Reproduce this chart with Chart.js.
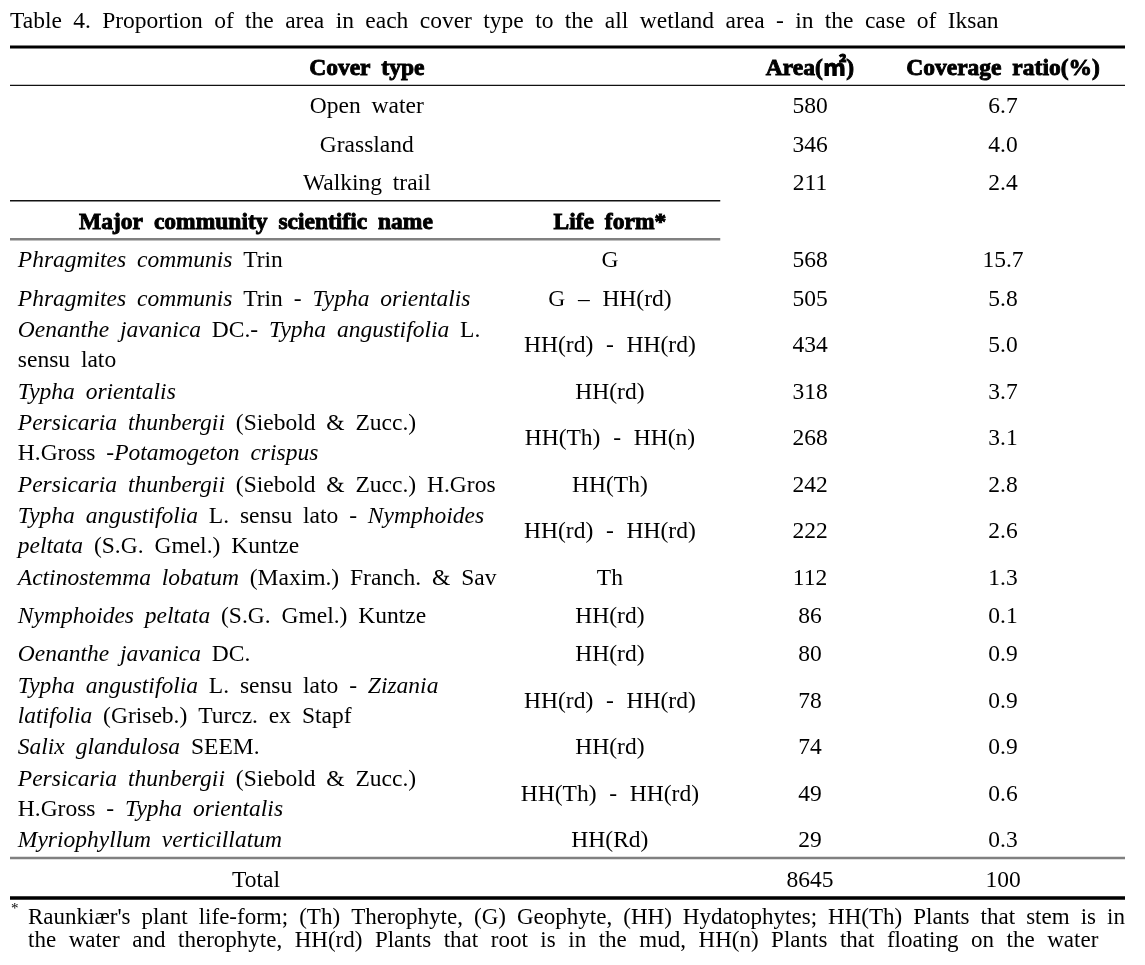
<!DOCTYPE html>
<html lang="en">
<head>
    <meta charset="UTF-8">
    <title>Table 4 - Iksan wetland cover types</title>
    <script src="https://cdn.jsdelivr.net/npm/chart.js"></script>
    <style>
        html, body { margin: 0; padding: 0; background: #fff; }
        .chart-container { width: 1145px; height: 965px; }
    </style>
</head>
<body>
    <div class="chart-container">
        <canvas id="myChart"></canvas>
    </div>

    <script>
        const titleText = 'Table 4. Proportion of the area in each cover type to the all wetland area - in the case of Iksan';
        const headerCover = 'Cover type';
        const headerArea = 'Area(\u33A1)';
        const headerRatio = 'Coverage ratio(%)';
        const headerName = 'Major community scientific name';
        const headerLife = 'Life form*';

        const coverTypes = ['Open water', 'Grassland', 'Walking trail'];
        const coverArea = [580, 346, 211];
        const coverRatio = ['6.7', '4.0', '2.4'];

        // _text_ = italic, \n = line break inside the cell
        const communityNames = [
            '_Phragmites communis_ Trin',
            '_Phragmites communis_ Trin - _Typha orientalis_',
            '_Oenanthe javanica_ DC.- _Typha angustifolia_ L.\nsensu lato',
            '_Typha orientalis_',
            '_Persicaria thunbergii_ (Siebold & Zucc.)\nH.Gross -_Potamogeton crispus_',
            '_Persicaria thunbergii_ (Siebold & Zucc.) H.Gros',
            '_Typha angustifolia_ L. sensu lato - _Nymphoides_\n_peltata_ (S.G. Gmel.) Kuntze',
            '_Actinostemma lobatum_ (Maxim.) Franch. & Sav',
            '_Nymphoides peltata_ (S.G. Gmel.) Kuntze',
            '_Oenanthe javanica_ DC.',
            '_Typha angustifolia_ L. sensu lato - _Zizania_\n_latifolia_ (Griseb.) Turcz. ex Stapf',
            '_Salix glandulosa_ SEEM.',
            '_Persicaria thunbergii_ (Siebold & Zucc.)\nH.Gross - _Typha orientalis_',
            '_Myriophyllum verticillatum_'
        ];
        const lifeForms = [
            'G', 'G  \u2013  HH(rd)', 'HH(rd)  -  HH(rd)', 'HH(rd)', 'HH(Th)  -  HH(n)', 'HH(Th)',
            'HH(rd)  -  HH(rd)', 'Th', 'HH(rd)', 'HH(rd)', 'HH(rd)  -  HH(rd)', 'HH(rd)',
            'HH(Th)  -  HH(rd)', 'HH(Rd)'
        ];
        const communityArea = [568, 505, 434, 318, 268, 242, 222, 112, 86, 80, 78, 74, 49, 29];
        const communityRatio = ['15.7', '5.8', '5.0', '3.7', '3.1', '2.8', '2.6', '1.3', '0.1', '0.9', '0.9', '0.9', '0.6', '0.3'];

        const totalLabel = 'Total';
        const totalArea = 8645;
        const totalRatio = '100';

        const footnote = [
            "Raunki\u00e6r's plant life-form; (Th) Therophyte, (G) Geophyte, (HH) Hydatophytes; HH(Th) Plants that stem is in",
            'the water and therophyte, HH(rd) Plants that root is in the mud, HH(n) Plants that floating on the water'
        ];

        // ---- layout (x in % of table width, y in row units) ----
        const COL = { nameLeft: 0.7, nameMid: 22.06, life: 53.8, cover: 32.0, leftEnd: 63.7, area: 71.75, ratio: 89.06 };
        const SERIF = "'Liberation Serif', 'Times New Roman', 'Noto Sans CJK KR', serif";
        const FS = 23.5;
        const GAP = 5;
        const LINE_H = 29.5;
        const DY = 2.5;

        let cursor = 0;
        function addRow(h) { const c = cursor + h / 2; cursor += h; return c; }
        const headerY = addRow(1);
        const coverY = coverTypes.map(() => addRow(1));
        const rule1 = 1;
        const rule2 = cursor;
        const majorY = addRow(1);
        const rule3 = cursor;
        const communityY = communityNames.map(n => addRow(n.includes('\n') ? 1.42 : 1));
        const rule4 = cursor;
        const totalY = addRow(1.04);
        const rule5 = cursor;

        function rule(y, x1, color, width) {
            return {
                data: [{ x: 0, y: y }, { x: x1, y: y }],
                showLine: true, pointRadius: 0, borderColor: color, borderWidth: width, clip: false
            };
        }
        const rules = [
            rule(0, 100, '#000', 3.2),
            rule(rule1, 100, '#111', 1.3),
            rule(rule2, COL.leftEnd, '#111', 1.3),
            rule(rule3, COL.leftEnd, '#808080', 2.6),
            rule(rule4, 100, '#808080', 2.6),
            rule(rule5, 100, '#000', 3.6)
        ];

        // ---- text helpers ----
        function fontFor(italic, bold, size) {
            return (italic ? 'italic ' : '') + (bold ? 'bold ' : '') + (size || FS) + 'px ' + SERIF;
        }
        function tokenize(line) {
            const items = [];
            let italic = false, buf = '';
            const flush = () => { if (buf) { items.push({ text: buf, italic: italic }); buf = ''; } };
            for (const ch of line) {
                if (ch === '_') { flush(); italic = !italic; }
                else if (ch === ' ') { flush(); items.push({ space: true }); }
                else buf += ch;
            }
            flush();
            return items;
        }
        function drawText(ctx, text, x, y, o) {
            const lines = String(text).split('\n');
            const size = o.size || FS;
            const gap = o.gap === undefined ? GAP : o.gap;
            const lh = o.lineHeight || LINE_H;
            lines.forEach((line, i) => {
                const items = tokenize(line);
                let w = 0, spaces = 0;
                items.forEach(it => {
                    if (it.space) {
                        ctx.font = fontFor(false, o.bold, size);
                        it.w = ctx.measureText(' ').width + gap;
                        spaces++;
                    } else {
                        ctx.font = fontFor(it.italic, o.bold, size);
                        it.w = ctx.measureText(it.text).width;
                    }
                    w += it.w;
                });
                if (o.justifyTo && spaces) {
                    const extra = (o.justifyTo - x - w) / spaces;
                    items.forEach(it => { if (it.space) it.w += extra; });
                    w = o.justifyTo - x;
                }
                let lx = o.align === 'center' ? x - w / 2 : x;
                const ly = y + DY + (i - (lines.length - 1) / 2) * lh;
                items.forEach(it => {
                    if (!it.space) {
                        ctx.font = fontFor(it.italic, o.bold, size);
                        ctx.fillText(it.text, lx, ly);
                        if (o.bold) {
                            // the printed headers use a heavier bold than Liberation's
                            ctx.lineWidth = 0.9;
                            ctx.strokeText(it.text, lx, ly);
                        }
                    }
                    lx += it.w;
                });
            });
        }

        const tablePlugin = {
            id: 'tableText',
            afterDraw(chart) {
                const ctx = chart.ctx;
                const xs = chart.scales.x, ys = chart.scales.y;
                const X = v => xs.getPixelForValue(v);
                const Y = v => ys.getPixelForValue(v);
                const area = chart.chartArea;
                ctx.save();
                ctx.fillStyle = '#000';
                ctx.strokeStyle = '#000';
                ctx.textBaseline = 'middle';

                drawText(ctx, titleText, area.left, area.top - 28, { gap: 5.5 });

                drawText(ctx, headerCover, X(COL.cover), Y(headerY), { align: 'center', bold: true });
                drawText(ctx, headerArea, X(COL.area), Y(headerY), { align: 'center', bold: true, gap: 0 });
                drawText(ctx, headerRatio, X(COL.ratio), Y(headerY), { align: 'center', bold: true });

                coverTypes.forEach((c, i) => {
                    drawText(ctx, c, X(COL.cover), Y(coverY[i]), { align: 'center' });
                    drawText(ctx, String(coverArea[i]), X(COL.area), Y(coverY[i]), { align: 'center' });
                    drawText(ctx, coverRatio[i], X(COL.ratio), Y(coverY[i]), { align: 'center' });
                });

                drawText(ctx, headerName, X(COL.nameMid), Y(majorY), { align: 'center', bold: true });
                drawText(ctx, headerLife, X(COL.life), Y(majorY), { align: 'center', bold: true });

                communityNames.forEach((n, i) => {
                    const y = Y(communityY[i]);
                    drawText(ctx, n, X(COL.nameLeft), y, {});
                    drawText(ctx, lifeForms[i], X(COL.life), y, { align: 'center', gap: 0.5 });
                    drawText(ctx, String(communityArea[i]), X(COL.area), y, { align: 'center' });
                    drawText(ctx, communityRatio[i], X(COL.ratio), y, { align: 'center' });
                });

                drawText(ctx, totalLabel, X(COL.nameMid), Y(totalY), { align: 'center' });
                drawText(ctx, String(totalArea), X(COL.area), Y(totalY), { align: 'center' });
                drawText(ctx, totalRatio, X(COL.ratio), Y(totalY), { align: 'center' });

                // footnote
                ctx.font = fontFor(false, false, 15);
                ctx.fillText('*', area.left + 1, area.bottom + 11);
                drawText(ctx, footnote[0], area.left + 18, area.bottom + 17, { size: 23, justifyTo: area.right });
                drawText(ctx, footnote[1], area.left + 18, area.bottom + 40, { size: 23, gap: 6.8 });
                ctx.restore();
            }
        };

        const ctx = document.getElementById('myChart').getContext('2d');
        window.tableChart = new Chart(ctx, {
            type: 'scatter',
            data: { datasets: rules },
            options: {
                responsive: true,
                maintainAspectRatio: false,
                animation: false,
                layout: { padding: { left: 10, right: 20, top: 47, bottom: 67 } },
                scales: {
                    x: { type: 'linear', min: 0, max: 100, display: false },
                    y: { type: 'linear', min: 0, max: cursor, reverse: true, display: false }
                },
                plugins: {
                    legend: { display: false },
                    tooltip: { enabled: false }
                }
            },
            plugins: [tablePlugin]
        });
    </script>
</body>
</html>
